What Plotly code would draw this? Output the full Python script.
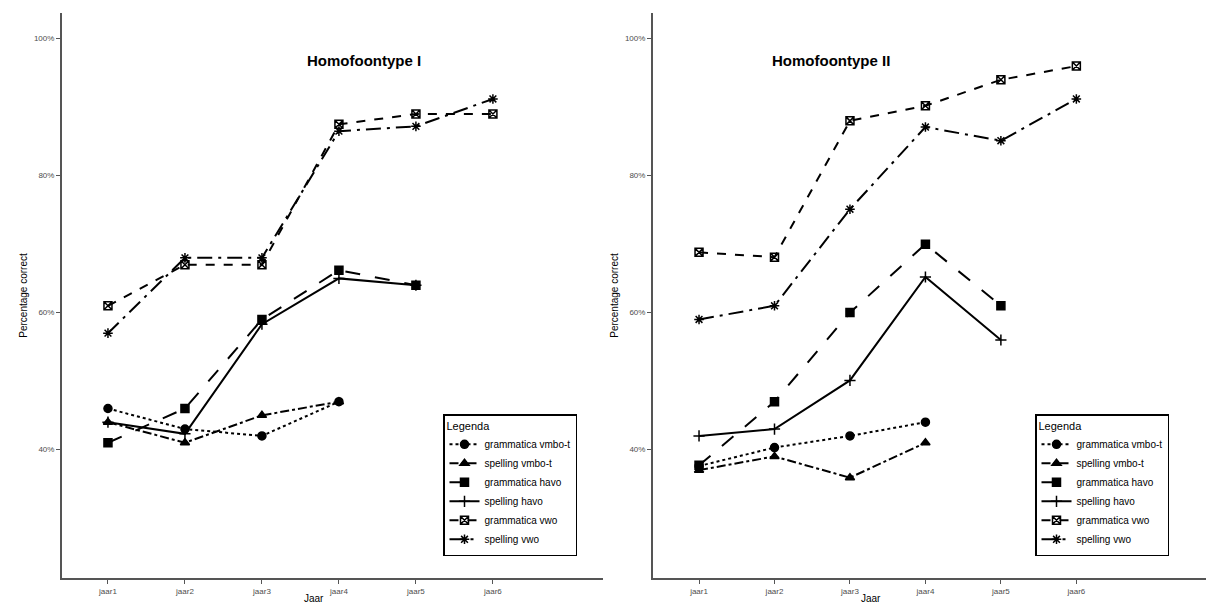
import plotly.graph_objects as go

years = ["jaar1", "jaar2", "jaar3", "jaar4", "jaar5", "jaar6"]
series_names = ["grammatica vmbo-t", "spelling vmbo-t", "grammatica havo",
                "spelling havo", "grammatica vwo", "spelling vwo"]
y_ticks = [40, 60, 80, 100]
y_tick_labels = ["40%", "60%", "80%", "100%"]

# Homofoontype I (percentages)
gr_vmbo_I = [46, 43, 42, 47, None, None]
sp_vmbo_I = [44, 41, 45, 47, None, None]
gr_havo_I = [41, 46, 59, 66.2, 64, None]
sp_havo_I = [44, 42.3, 58.3, 65, 64, None]
gr_vwo_I = [61, 67, 67, 87.5, 89, 89]
sp_vwo_I = [57, 68, 68, 86.5, 87.2, 91.2]

# Homofoontype II (percentages)
gr_vmbo_II = [37.6, 40.3, 42, 44, None, None]
sp_vmbo_II = [37, 39, 35.9, 41, None, None]
gr_havo_II = [37.7, 47, 60, 70, 61, None]
sp_havo_II = [42, 43, 50.1, 65.2, 56, None]
gr_vwo_II = [68.8, 68.1, 88, 90.2, 94, 96]
sp_vwo_II = [59, 61, 75.1, 87.1, 85.1, 91.2]

dashes = ["dot", "dashdot", "longdash", "solid", "dash", "longdashdot"]
symbols = ["circle", "triangle-up", "square", "cross-thin-open", "square-x-open", "asterisk-open"]

W, H = 1214, 607
OFF = 8  # page offset of the figure in the browser


def px(xp):
    return (xp - OFF) / W


def py(yp):
    return 1 - (yp - OFF) / H


fig = go.Figure()

panel_I = [gr_vmbo_I, sp_vmbo_I, gr_havo_I, sp_havo_I, gr_vwo_I, sp_vwo_I]
panel_II = [gr_vmbo_II, sp_vmbo_II, gr_havo_II, sp_havo_II, gr_vwo_II, sp_vwo_II]

for panel, xa, ya, lg in [(panel_I, "x", "y", "legend"), (panel_II, "x2", "y2", "legend2")]:
    for name, vals, dsh, sym in zip(series_names, panel, dashes, symbols):
        fig.add_trace(go.Scatter(
            x=years, y=vals, name=name, mode="lines+markers",
            line=dict(color="black", width=2, dash=dsh),
            marker=dict(symbol=sym, size=8, color="black",
                        line=dict(color="black", width=1.5)),
            xaxis=xa, yaxis=ya, legend=lg, connectgaps=False,
        ))

axis_common = dict(
    showgrid=False, zeroline=False, showline=True, linecolor="#555555", linewidth=2,
    ticks="outside", ticklen=4, tickcolor="#555555", tickwidth=1,
    tickfont=dict(family="Liberation Sans, Arial", size=8, color="#4d4d4d"),
)

ydom = [py(578), py(13)]

legend_common = dict(
    xanchor="left", yanchor="top",
    bordercolor="black", borderwidth=1.5, bgcolor="white",
    title=dict(text="Legenda", font=dict(size=11)),
    font=dict(size=10), itemwidth=30, tracegroupgap=0,
)

fig.update_layout(
    width=W, height=H,
    paper_bgcolor="white", plot_bgcolor="white",
    margin=dict(l=0, r=0, t=0, b=0),
    font=dict(family="Liberation Sans, Arial", color="black"),
    xaxis=dict(domain=[px(62), px(603)], type="category", categoryorder="array",
               categoryarray=years, range=[-0.597, 6.43], anchor="y", **axis_common),
    yaxis=dict(domain=ydom, range=[21.25, 103.75], tickmode="array", tickvals=y_ticks,
               ticktext=y_tick_labels, anchor="x",
               title=dict(text="Percentage correct", font=dict(size=10), standoff=4),
               **axis_common),
    xaxis2=dict(domain=[px(653), 1.0], type="category", categoryorder="array",
                categoryarray=years, range=[-0.61, 6.93], anchor="y2", **axis_common),
    yaxis2=dict(domain=ydom, range=[21.25, 103.75], tickmode="array", tickvals=y_ticks,
                ticktext=y_tick_labels, anchor="x2",
                title=dict(text="Percentage correct", font=dict(size=10), standoff=4),
                **axis_common),
    legend=dict(x=px(443), y=py(414), **legend_common),
    legend2=dict(x=px(1035), y=py(414), **legend_common),
    annotations=[
        dict(text="<b>Homofoontype I</b>", x=px(305), y=py(50), xref="paper", yref="paper",
             showarrow=False, font=dict(size=15, family="Liberation Sans, Arial")),
        dict(text="<b>Homofoontype II</b>", x=px(892), y=py(50), xref="paper", yref="paper",
             showarrow=False, font=dict(size=15, family="Liberation Sans, Arial")),
        dict(text="Jaar", x=px(302), y=py(598), xref="paper", yref="paper",
             showarrow=False, yanchor="middle", font=dict(size=10)),
        dict(text="Jaar", x=px(883), y=py(598), xref="paper", yref="paper",
             showarrow=False, yanchor="middle", font=dict(size=10)),
    ],
)

fig.write_html("out.html")
